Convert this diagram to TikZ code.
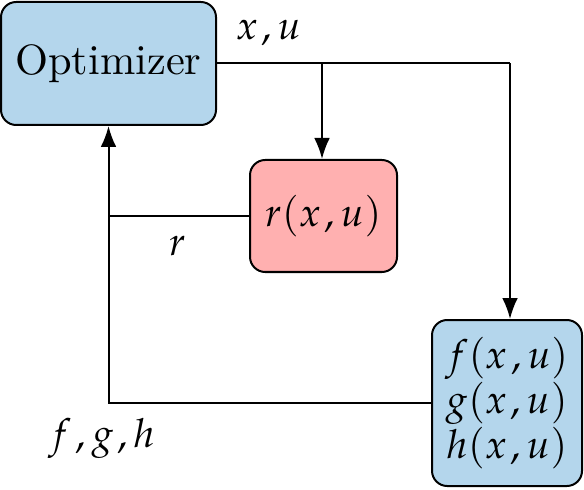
\documentclass[tikz,border=0pt]{standalone}
\usepackage{amsmath,amssymb}
\usepackage{mathpazo}
\usetikzlibrary{arrows.meta}

\tikzset{
  blockblue/.style={draw,line width=0.5pt,rounded corners=3.8pt,fill=optblue,align=center},
  blockred/.style={draw,line width=0.5pt,rounded corners=3.8pt,fill=resred,align=center},
}
\definecolor{optblue}{RGB}{180,214,236}
\definecolor{resred}{RGB}{255,176,176}
\newcommand{\xu}{x\mskip1.5mu,u}

\begin{document}
\begin{tikzpicture}[x=0.25pt,y=-0.25pt,>=Latex,line width=0.5pt]
\useasboundingbox (0,0) rectangle (584,489);
\node[blockblue,minimum width=53.75pt,minimum height=30.75pt,font=\fontsize{10.6}{12}\selectfont] (opt) at (108.5,63.5) {Optimizer};
\node[blockred,minimum width=36.75pt,minimum height=28pt] (rfun) at (323.5,216) {$r(\xu)$};
\node[blockblue,minimum width=37.5pt,minimum height=41.5pt,inner sep=1pt,font=\fontsize{10}{11.3}\selectfont] (fgh) at (507,403)
  {$f(\xu)$\\$g(\xu)$\\$h(\xu)$};
\coordinate (split) at (322,63.5);
\coordinate (corner) at (510,63.5);
% forward path
\draw (opt.east) -- (corner);
\draw[->] (corner) -- (corner |- fgh.north);
\draw[->] (split) -- (rfun.north -| split);
% feedback
\draw[->] (rfun.west) -- (rfun.west -| opt.south) -- (opt.south);
\draw (fgh.west) -- (fgh.west -| opt.south) -- (rfun.west -| opt.south);
\draw (269,33) node {$\xu$};
\draw (178,246) node {$r$};
\draw (102,438) node {$f\mskip1.5mu,g\mskip1.5mu,h$};
\end{tikzpicture}
\end{document}
